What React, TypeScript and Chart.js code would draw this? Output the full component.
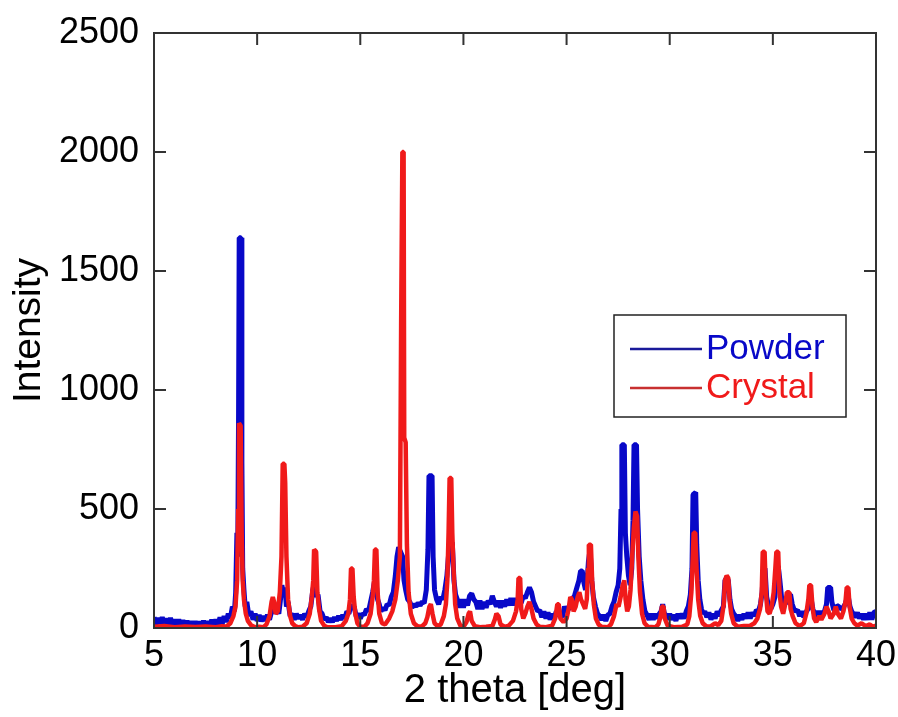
import React, { useEffect, useRef } from "react";
import { Chart, registerables } from "chart.js";

Chart.register(...registerables);

// 2-theta (deg), intensity
const powder: [number, number][] = [
  [5.0, 45], [5.1, 15], [5.2, 42], [5.3, 18], [5.4, 45], [5.5, 16], [5.6, 40], [5.7, 14], [5.8, 42], [5.9, 12],
  [6.0, 36], [6.1, 10], [6.2, 36], [6.3, 8], [6.4, 32], [6.5, 6], [6.6, 30], [6.7, 6], [6.8, 28], [6.9, 5],
  [7.0, 28], [7.1, 5], [7.2, 26], [7.3, 6], [7.4, 30], [7.5, 5], [7.6, 28], [7.7, 8], [7.8, 35], [7.9, 8],
  [8.0, 36], [8.1, 12], [8.2, 45], [8.3, 15], [8.4, 50], [8.5, 25], [8.6, 60], [8.7, 40], [8.8, 90], [8.9, 70],
  [8.96, 150], [9.02, 400], [9.06, 300], [9.1, 900], [9.13, 1640], [9.22, 1640], [9.26, 700], [9.3, 250], [9.36, 160], [9.42, 90],
  [9.5, 110], [9.6, 50], [9.7, 70], [9.8, 35], [9.9, 60], [10.0, 30], [10.1, 55], [10.2, 28], [10.3, 50], [10.4, 30],
  [10.5, 55], [10.6, 35], [10.7, 70], [10.78, 110], [10.86, 60], [10.95, 80], [11.05, 60], [11.12, 110], [11.2, 180], [11.28, 140],
  [11.35, 170], [11.42, 90], [11.5, 110], [11.6, 50], [11.7, 60], [11.8, 35], [11.9, 60], [12.0, 40], [12.1, 55], [12.2, 35],
  [12.3, 60], [12.4, 45], [12.5, 70], [12.6, 90], [12.7, 160], [12.8, 200], [12.88, 130], [12.95, 140], [13.05, 70], [13.15, 60],
  [13.25, 35], [13.35, 45], [13.45, 25], [13.55, 40], [13.65, 25], [13.75, 45], [13.85, 30], [13.95, 50], [14.05, 35], [14.15, 55],
  [14.25, 40], [14.35, 70], [14.45, 60], [14.55, 100], [14.62, 80], [14.7, 90], [14.8, 50], [14.9, 60], [15.0, 40], [15.1, 60],
  [15.2, 55], [15.3, 80], [15.4, 70], [15.5, 110], [15.6, 150], [15.68, 190], [15.76, 200], [15.84, 120], [15.92, 100], [16.0, 70],
  [16.1, 85], [16.2, 75], [16.3, 100], [16.4, 95], [16.5, 130], [16.6, 150], [16.7, 220], [16.78, 300], [16.86, 340], [16.95, 320],
  [17.05, 300], [17.12, 200], [17.2, 160], [17.3, 120], [17.4, 110], [17.5, 85], [17.6, 100], [17.7, 90], [17.8, 105], [17.9, 95],
  [18.0, 110], [18.1, 105], [18.2, 160], [18.28, 330], [18.33, 640], [18.48, 640], [18.53, 300], [18.6, 160], [18.7, 120], [18.8, 100],
  [18.9, 130], [19.0, 120], [19.1, 160], [19.2, 220], [19.3, 330], [19.38, 350], [19.46, 360], [19.54, 200], [19.62, 140], [19.7, 120],
  [19.8, 85], [19.9, 120], [20.0, 85], [20.1, 120], [20.2, 95], [20.3, 135], [20.4, 145], [20.5, 120], [20.6, 110], [20.7, 80],
  [20.8, 115], [20.9, 80], [21.0, 110], [21.1, 85], [21.2, 115], [21.3, 100], [21.4, 135], [21.5, 110], [21.6, 90], [21.7, 115],
  [21.8, 85], [21.9, 115], [22.0, 90], [22.1, 120], [22.2, 95], [22.3, 125], [22.4, 95], [22.5, 125], [22.6, 100], [22.7, 130],
  [22.8, 105], [22.9, 135], [23.0, 125], [23.1, 150], [23.2, 170], [23.3, 150], [23.4, 110], [23.5, 90], [23.6, 70], [23.7, 75],
  [23.8, 45], [23.9, 70], [24.0, 40], [24.1, 65], [24.2, 35], [24.3, 60], [24.4, 40], [24.5, 70], [24.6, 50], [24.7, 65],
  [24.8, 45], [24.9, 90], [25.0, 70], [25.1, 80], [25.2, 90], [25.3, 120], [25.4, 140], [25.5, 170], [25.6, 200], [25.68, 240],
  [25.76, 240], [25.84, 190], [25.92, 160], [26.0, 200], [26.06, 280], [26.14, 330], [26.22, 200], [26.3, 130], [26.4, 90], [26.5, 60],
  [26.6, 50], [26.7, 35], [26.8, 55], [26.9, 30], [27.0, 55], [27.1, 60], [27.2, 90], [27.3, 110], [27.4, 150], [27.5, 180],
  [27.58, 250], [27.64, 500], [27.68, 770], [27.8, 770], [27.85, 400], [27.92, 300], [28.0, 220], [28.08, 180], [28.16, 250], [28.22, 450],
  [28.27, 770], [28.39, 770], [28.44, 500], [28.52, 300], [28.6, 200], [28.7, 120], [28.8, 70], [28.9, 55], [29.0, 35], [29.1, 60],
  [29.2, 35], [29.3, 60], [29.4, 40], [29.5, 60], [29.58, 70], [29.66, 100], [29.74, 60], [29.82, 55], [29.9, 35], [30.0, 60],
  [30.1, 35], [30.2, 55], [30.3, 30], [30.4, 60], [30.5, 40], [30.6, 60], [30.7, 40], [30.8, 70], [30.9, 90], [31.0, 140],
  [31.08, 250], [31.13, 560], [31.26, 570], [31.31, 350], [31.38, 200], [31.46, 120], [31.54, 80], [31.62, 60], [31.7, 70], [31.8, 45],
  [31.9, 65], [32.0, 35], [32.1, 60], [32.2, 40], [32.3, 70], [32.4, 50], [32.5, 75], [32.6, 90], [32.68, 200], [32.76, 210],
  [32.84, 200], [32.92, 120], [33.0, 80], [33.1, 60], [33.2, 50], [33.3, 30], [33.4, 55], [33.5, 35], [33.6, 60], [33.7, 40],
  [33.8, 65], [33.9, 40], [34.0, 65], [34.1, 50], [34.2, 75], [34.3, 70], [34.4, 100], [34.48, 150], [34.55, 250], [34.62, 250],
  [34.7, 130], [34.8, 90], [34.9, 80], [35.0, 100], [35.1, 130], [35.18, 250], [35.26, 260], [35.34, 200], [35.42, 130], [35.5, 110],
  [35.6, 100], [35.7, 130], [35.78, 140], [35.86, 140], [35.94, 100], [36.02, 80], [36.1, 70], [36.2, 75], [36.3, 50], [36.4, 70],
  [36.5, 45], [36.6, 65], [36.7, 80], [36.78, 120], [36.86, 120], [36.94, 80], [37.02, 60], [37.1, 70], [37.2, 50], [37.3, 70],
  [37.4, 50], [37.5, 70], [37.6, 100], [37.66, 170], [37.8, 170], [37.86, 110], [37.94, 80], [38.02, 70], [38.1, 95], [38.2, 90],
  [38.3, 80], [38.4, 85], [38.5, 100], [38.58, 120], [38.66, 130], [38.74, 90], [38.82, 70], [38.9, 60], [39.0, 45], [39.1, 65],
  [39.2, 40], [39.3, 60], [39.4, 35], [39.5, 60], [39.6, 35], [39.7, 65], [39.8, 35], [39.9, 65], [40.0, 70],
];

const crystal: [number, number][] = [
  [5.0, 5], [5.5, 8], [6.0, 3], [6.5, 6], [7.0, 4], [7.5, 6], [8.0, 3], [8.3, 8], [8.5, 5], [8.7, 20],
  [8.85, 50], [8.95, 90], [9.03, 200], [9.08, 500], [9.12, 860], [9.2, 850], [9.25, 400], [9.3, 200], [9.36, 120], [9.45, 60],
  [9.55, 30], [9.7, 12], [9.9, 3], [10.1, 5], [10.3, 3], [10.45, 15], [10.6, 50], [10.7, 110], [10.76, 130], [10.82, 110],
  [10.9, 60], [11.0, 70], [11.1, 150], [11.18, 300], [11.24, 690], [11.32, 690], [11.36, 610], [11.42, 300], [11.5, 120], [11.6, 50],
  [11.7, 20], [11.85, 8], [12.0, 3], [12.2, 5], [12.4, 20], [12.55, 60], [12.65, 130], [12.72, 200], [12.76, 330], [12.86, 320],
  [12.92, 150], [13.0, 80], [13.1, 30], [13.25, 10], [13.4, 3], [13.8, 3], [14.1, 8], [14.3, 30], [14.42, 60], [14.5, 120],
  [14.55, 250], [14.62, 250], [14.68, 130], [14.76, 60], [14.86, 20], [15.0, 5], [15.2, 5], [15.35, 20], [15.5, 60], [15.6, 130],
  [15.66, 200], [15.71, 330], [15.78, 330], [15.84, 150], [15.92, 60], [16.05, 20], [16.2, 15], [16.4, 40], [16.55, 70], [16.7, 120],
  [16.82, 200], [16.92, 300], [16.98, 1270], [17.02, 1270], [17.04, 2000], [17.1, 2000], [17.13, 800], [17.2, 780], [17.26, 350], [17.34, 150],
  [17.45, 60], [17.6, 20], [17.8, 5], [18.0, 8], [18.15, 20], [18.25, 45], [18.35, 90], [18.42, 100], [18.5, 60], [18.6, 20],
  [18.75, 8], [18.9, 15], [19.05, 50], [19.15, 100], [19.22, 200], [19.28, 400], [19.33, 630], [19.41, 630], [19.46, 400], [19.52, 250],
  [19.6, 100], [19.7, 40], [19.85, 10], [20.0, 5], [20.15, 25], [20.25, 60], [20.32, 70], [20.4, 30], [20.55, 8], [20.8, 3],
  [21.1, 5], [21.4, 8], [21.52, 35], [21.6, 60], [21.7, 50], [21.8, 15], [22.0, 5], [22.2, 10], [22.4, 30], [22.55, 70],
  [22.63, 120], [22.67, 210], [22.75, 210], [22.8, 80], [22.9, 40], [23.0, 60], [23.1, 90], [23.2, 110], [23.3, 80], [23.4, 40],
  [23.55, 15], [23.7, 5], [24.0, 3], [24.3, 10], [24.45, 40], [24.55, 100], [24.62, 100], [24.7, 40], [24.85, 25], [25.0, 40],
  [25.1, 80], [25.18, 130], [25.26, 120], [25.34, 70], [25.44, 90], [25.54, 130], [25.62, 150], [25.7, 120], [25.8, 100], [25.9, 80],
  [25.98, 120], [26.04, 250], [26.08, 350], [26.18, 350], [26.24, 200], [26.32, 100], [26.42, 40], [26.55, 15], [26.7, 5], [27.0, 3],
  [27.15, 15], [27.3, 50], [27.42, 100], [27.52, 90], [27.62, 130], [27.72, 180], [27.8, 200], [27.86, 120], [27.94, 70], [28.02, 90],
  [28.1, 160], [28.18, 300], [28.26, 420], [28.34, 490], [28.42, 470], [28.48, 300], [28.56, 150], [28.66, 60], [28.78, 20], [28.95, 5],
  [29.3, 3], [29.45, 15], [29.56, 50], [29.62, 90], [29.7, 90], [29.76, 40], [29.9, 10], [30.2, 3], [30.6, 5], [30.85, 15],
  [30.95, 50], [31.05, 150], [31.12, 300], [31.16, 400], [31.24, 400], [31.3, 250], [31.38, 120], [31.48, 50], [31.6, 20], [31.8, 5],
  [32.0, 8], [32.2, 20], [32.35, 12], [32.5, 30], [32.62, 100], [32.68, 200], [32.76, 220], [32.84, 210], [32.9, 120], [32.98, 60],
  [33.1, 20], [33.3, 5], [33.6, 8], [33.9, 10], [34.1, 20], [34.25, 40], [34.38, 80], [34.46, 150], [34.51, 320], [34.6, 320],
  [34.66, 150], [34.74, 70], [34.84, 60], [34.94, 90], [35.04, 150], [35.12, 250], [35.17, 320], [35.26, 320], [35.32, 150], [35.4, 90],
  [35.5, 60], [35.6, 100], [35.68, 150], [35.8, 150], [35.86, 80], [35.96, 50], [36.1, 20], [36.3, 8], [36.5, 20], [36.62, 60],
  [36.72, 120], [36.77, 180], [36.85, 180], [36.92, 90], [37.0, 40], [37.1, 25], [37.25, 50], [37.35, 35], [37.5, 60], [37.6, 90],
  [37.7, 70], [37.8, 40], [37.95, 60], [38.05, 90], [38.15, 60], [38.3, 40], [38.42, 70], [38.52, 110], [38.58, 170], [38.66, 170],
  [38.72, 90], [38.82, 40], [38.95, 20], [39.1, 10], [39.3, 20], [39.5, 8], [39.7, 15], [39.85, 5], [40.0, 10],
];

const seriesNames = ["Powder", "Crystal"];
const xTicks = [5, 10, 15, 20, 25, 30, 35, 40];
const yTicks = [0, 500, 1000, 1500, 2000, 2500];
const xTitle = "2 theta [deg]";
const yTitle = "Intensity";

const BLUE = "#0808c8";
const RED = "#f01a1a";
const FONT = "'Liberation Sans', Arial, sans-serif";

const framePlugin = {
  id: "frame",
  afterDatasetsDraw(chart: any) {
    const { ctx, chartArea: a, scales } = chart;
    ctx.save();
    ctx.strokeStyle = "#333";
    ctx.lineWidth = 2;
    ctx.strokeRect(a.left, a.top, a.right - a.left, a.bottom - a.top);
    const L = 12;
    ctx.beginPath();
    for (const v of xTicks) {
      const px = scales.x.getPixelForValue(v);
      ctx.moveTo(px, a.bottom);
      ctx.lineTo(px, a.bottom - L);
      ctx.moveTo(px, a.top);
      ctx.lineTo(px, a.top + L);
    }
    for (const v of yTicks) {
      const py = scales.y.getPixelForValue(v);
      ctx.moveTo(a.left, py);
      ctx.lineTo(a.left + L, py);
      ctx.moveTo(a.right, py);
      ctx.lineTo(a.right - L, py);
    }
    ctx.stroke();

    // legend
    const bx = 614, by = 315, bw = 232, bh = 102;
    ctx.fillStyle = "#fff";
    ctx.fillRect(bx, by, bw, bh);
    ctx.strokeStyle = "#222";
    ctx.lineWidth = 1.5;
    ctx.strokeRect(bx, by, bw, bh);
    const items = [
      { name: seriesNames[0], color: BLUE, line: "#1a1a9a", y: 349 },
      { name: seriesNames[1], color: RED, line: "#c83030", y: 388 },
    ];
    ctx.font = `35px ${FONT}`;
    ctx.textBaseline = "middle";
    ctx.textAlign = "left";
    for (const it of items) {
      ctx.strokeStyle = it.line;
      ctx.lineWidth = 2.5;
      ctx.beginPath();
      ctx.moveTo(630, it.y);
      ctx.lineTo(702, it.y);
      ctx.stroke();
      ctx.fillStyle = it.color;
      ctx.fillText(it.name, 706, it.y);
    }
    ctx.restore();
  },
};

const noPad = (s: any) => {
  s.paddingLeft = 0;
  s.paddingRight = 0;
  s.paddingTop = 0;
  s.paddingBottom = 0;
};

export default function App() {
  const ref = useRef<HTMLCanvasElement>(null);
  useEffect(() => {
    const canvas = ref.current!;
    const chart = new Chart(canvas, {
      type: "line",
      data: {
        datasets: [
          {
            label: seriesNames[1],
            data: crystal.map(([x, y]) => ({ x, y })),
            borderColor: RED,
            borderWidth: 4.5,
            borderJoinStyle: "bevel",
            pointRadius: 0,
            tension: 0,
            order: 1,
          },
          {
            label: seriesNames[0],
            data: powder.map(([x, y]) => ({ x, y })),
            borderColor: BLUE,
            borderWidth: 5,
            borderJoinStyle: "bevel",
            pointRadius: 0,
            tension: 0,
            order: 2,
          },
        ],
      },
      options: {
        animation: false,
        responsive: false,
        devicePixelRatio: 1,
        layout: { padding: { top: 33, right: 22, left: 0, bottom: 0 } },
        plugins: { legend: { display: false }, tooltip: { enabled: false } },
        scales: {
          x: {
            type: "linear",
            min: 5,
            max: 40,
            afterBuildTicks: (s: any) => {
              s.ticks = xTicks.map((v) => ({ value: v }));
            },
            afterFit: (s: any) => {
              s.height = 89;
              noPad(s);
            },
            grid: { display: false, drawTicks: false },
            border: { display: false },
            ticks: {
              color: "#000",
              font: { family: FONT, size: 36 },
              padding: 6,
              maxRotation: 0,
              autoSkip: false,
              callback: (v: any) => String(v),
            },
            title: {
              display: true,
              text: xTitle,
              color: "#000",
              font: { family: FONT, size: 40 },
              padding: { top: 0, bottom: 2 },
            },
          },
          y: {
            type: "linear",
            min: 0,
            max: 2500,
            afterBuildTicks: (s: any) => {
              s.ticks = yTicks.map((v) => ({ value: v }));
            },
            afterFit: (s: any) => {
              s.width = 154;
              noPad(s);
            },
            grid: { display: false, drawTicks: false },
            border: { display: false },
            ticks: {
              color: "#000",
              font: { family: FONT, size: 36 },
              padding: 15,
              autoSkip: false,
              callback: (v: any) => String(v),
            },
            title: {
              display: true,
              text: yTitle,
              color: "#000",
              font: { family: FONT, size: 39 },
              padding: { top: 6, bottom: 0 },
            },
          },
        },
      },
      plugins: [framePlugin],
    } as any);
    return () => chart.destroy();
  }, []);
  return (
    <div style={{ position: "absolute", left: 0, top: 0, width: 898, height: 717, background: "#fff" }}>
      <canvas ref={ref} width={898} height={717} />
    </div>
  );
}
